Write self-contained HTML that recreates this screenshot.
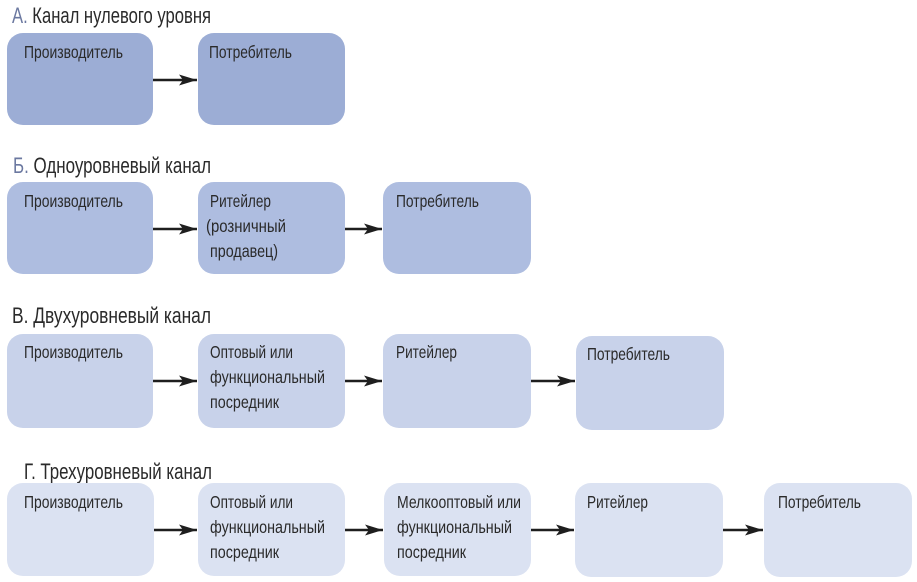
<!DOCTYPE html>
<html>
<head>
<meta charset="utf-8">
<style>
html,body{margin:0;padding:0;background:#fff;}
svg{display:block;}
text{font-family:"Liberation Sans","Noto Sans CJK SC",sans-serif;fill:#2a2a2a;}
.t{font-size:17.5px;}
.h{font-size:22px;}
</style>
</head>
<body>
<svg width="917" height="582" viewBox="0 0 917 582" xmlns="http://www.w3.org/2000/svg">
<defs>
<marker id="ah" markerWidth="20" markerHeight="12" refX="18" refY="6" orient="auto" markerUnits="userSpaceOnUse">
<path d="M0,0.5 L18,6 L0,11.5 L4,6 Z" fill="#1e1e1e"/>
</marker>
</defs>

<!-- Row A -->
<text class="h" x="12" y="23" textLength="199" lengthAdjust="spacingAndGlyphs"><tspan fill="#6b78a0">А.</tspan> Канал нулевого уровня</text>
<rect x="7" y="33" width="146" height="92" rx="16" fill="#9cadd5"/>
<rect x="198" y="33" width="147" height="92" rx="16" fill="#9cadd5"/>
<text class="t" x="24" y="58" textLength="99" lengthAdjust="spacingAndGlyphs">Производитель</text>
<text class="t" x="209" y="58" textLength="83" lengthAdjust="spacingAndGlyphs">Потребитель</text>
<line x1="153" y1="80" x2="197" y2="80" stroke="#1e1e1e" stroke-width="2.5" marker-end="url(#ah)"/>

<!-- Row B -->
<text class="h" x="13" y="173" textLength="198" lengthAdjust="spacingAndGlyphs"><tspan fill="#6b78a0">Б.</tspan> Одноуровневый канал</text>
<rect x="7" y="182" width="146" height="92" rx="16" fill="#aebde0"/>
<rect x="198" y="182" width="147" height="92" rx="16" fill="#aebde0"/>
<rect x="383" y="182" width="148" height="92" rx="16" fill="#aebde0"/>
<text class="t" x="24" y="207" textLength="99" lengthAdjust="spacingAndGlyphs">Производитель</text>
<text class="t" x="210" y="207" textLength="61" lengthAdjust="spacingAndGlyphs">Ритейлер</text>
<text class="t" x="206" y="232" textLength="80" lengthAdjust="spacingAndGlyphs">(розничный</text>
<text class="t" x="210" y="257" textLength="68" lengthAdjust="spacingAndGlyphs">продавец)</text>
<text class="t" x="396" y="207" textLength="83" lengthAdjust="spacingAndGlyphs">Потребитель</text>
<line x1="153" y1="229" x2="197" y2="229" stroke="#1e1e1e" stroke-width="2.5" marker-end="url(#ah)"/>
<line x1="345" y1="229" x2="382" y2="229" stroke="#1e1e1e" stroke-width="2.5" marker-end="url(#ah)"/>

<!-- Row V -->
<text class="h" x="12" y="323" textLength="199" lengthAdjust="spacingAndGlyphs">В. Двухуровневый канал</text>
<rect x="7" y="334" width="146" height="94" rx="16" fill="#c8d2ea"/>
<rect x="198" y="334" width="147" height="94" rx="16" fill="#c8d2ea"/>
<rect x="383" y="334" width="148" height="94" rx="16" fill="#c8d2ea"/>
<rect x="576" y="336" width="148" height="94" rx="16" fill="#c8d2ea"/>
<text class="t" x="24" y="358" textLength="99" lengthAdjust="spacingAndGlyphs">Производитель</text>
<text class="t" x="210" y="358" textLength="83" lengthAdjust="spacingAndGlyphs">Оптовый или</text>
<text class="t" x="210" y="383" textLength="115" lengthAdjust="spacingAndGlyphs">функциональный</text>
<text class="t" x="210" y="408" textLength="69" lengthAdjust="spacingAndGlyphs">посредник</text>
<text class="t" x="396" y="358" textLength="61" lengthAdjust="spacingAndGlyphs">Ритейлер</text>
<text class="t" x="587" y="360" textLength="83" lengthAdjust="spacingAndGlyphs">Потребитель</text>
<line x1="153" y1="381" x2="197" y2="381" stroke="#1e1e1e" stroke-width="2.5" marker-end="url(#ah)"/>
<line x1="345" y1="381" x2="382" y2="381" stroke="#1e1e1e" stroke-width="2.5" marker-end="url(#ah)"/>
<line x1="531" y1="381" x2="575" y2="381" stroke="#1e1e1e" stroke-width="2.5" marker-end="url(#ah)"/>

<!-- Row G -->
<text class="h" x="24" y="479" textLength="188" lengthAdjust="spacingAndGlyphs">Г. Трехуровневый канал</text>
<rect x="7" y="483" width="147" height="93" rx="16" fill="#dbe2f2"/>
<rect x="198" y="483" width="147" height="93" rx="16" fill="#dbe2f2"/>
<rect x="384" y="483" width="147" height="93" rx="16" fill="#dbe2f2"/>
<rect x="575" y="483" width="148" height="94" rx="16" fill="#dbe2f2"/>
<rect x="764" y="483" width="148" height="94" rx="16" fill="#dbe2f2"/>
<text class="t" x="24" y="508" textLength="99" lengthAdjust="spacingAndGlyphs">Производитель</text>
<text class="t" x="210" y="508" textLength="83" lengthAdjust="spacingAndGlyphs">Оптовый или</text>
<text class="t" x="210" y="533" textLength="115" lengthAdjust="spacingAndGlyphs">функциональный</text>
<text class="t" x="210" y="558" textLength="69" lengthAdjust="spacingAndGlyphs">посредник</text>
<text class="t" x="397" y="508" textLength="124" lengthAdjust="spacingAndGlyphs">Мелкооптовый или</text>
<text class="t" x="397" y="533" textLength="115" lengthAdjust="spacingAndGlyphs">функциональный</text>
<text class="t" x="397" y="558" textLength="69" lengthAdjust="spacingAndGlyphs">посредник</text>
<text class="t" x="587" y="508" textLength="61" lengthAdjust="spacingAndGlyphs">Ритейлер</text>
<text class="t" x="778" y="508" textLength="83" lengthAdjust="spacingAndGlyphs">Потребитель</text>
<line x1="154" y1="530" x2="197" y2="530" stroke="#1e1e1e" stroke-width="2.5" marker-end="url(#ah)"/>
<line x1="345" y1="530" x2="383" y2="530" stroke="#1e1e1e" stroke-width="2.5" marker-end="url(#ah)"/>
<line x1="531" y1="530" x2="574" y2="530" stroke="#1e1e1e" stroke-width="2.5" marker-end="url(#ah)"/>
<line x1="723" y1="530" x2="763" y2="530" stroke="#1e1e1e" stroke-width="2.5" marker-end="url(#ah)"/>
</svg>
</body>
</html>
